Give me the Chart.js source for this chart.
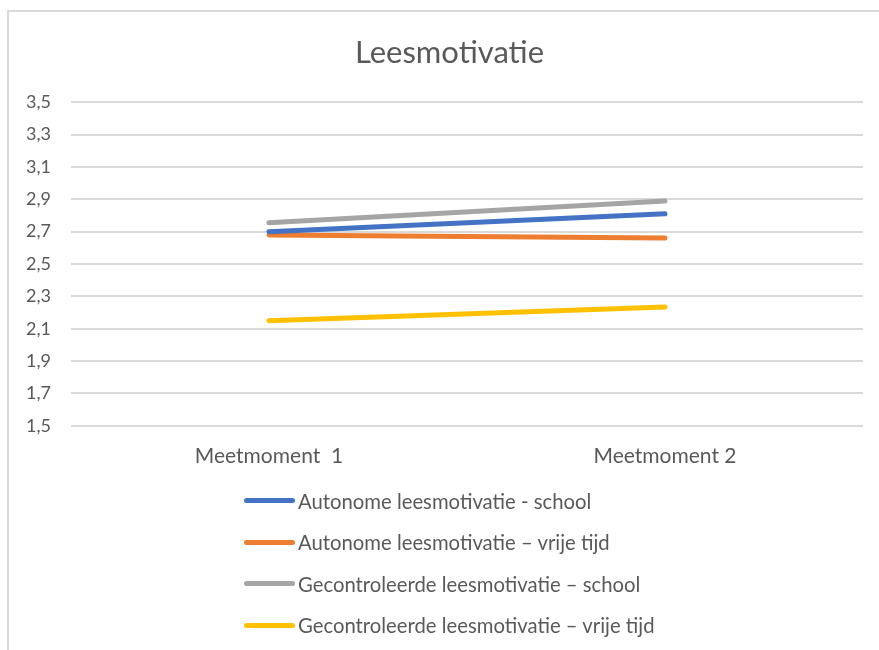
<!DOCTYPE html>
<html>
<head>
<meta charset="utf-8">
<script src="https://cdn.jsdelivr.net/npm/chart.js@4.4.1/dist/chart.umd.min.js"></script>
<style>
  html, body { margin: 0; padding: 0; background: #fff; }
  body { width: 879px; height: 650px; position: relative; overflow: hidden; font-family: Lato, "Open Sans", sans-serif; }
  .frame {
    position: absolute; left: 7px; top: 10px; width: 900px; height: 700px;
    border-left: 2px solid #d9d9d9; border-top: 2px solid #d9d9d9;
  }
  #chart { position: absolute; left: 0; top: 0; }
  .legend { position: absolute; left: 244px; top: 480px; }
  .legend-item { height: 41.5px; display: flex; align-items: center; color: #595959; font-size: 20.3px; }
  .legend-line { width: 51px; height: 5px; border-radius: 3px; margin-right: 3px; }
</style>
</head>
<body>
<div class="frame"></div>
<canvas id="chart" width="879" height="650"></canvas>
<div class="legend" id="legend"></div>
<script>
const categories = ["Meetmoment  1", "Meetmoment 2"];
const seriesNames = [
  "Autonome leesmotivatie - school",
  "Autonome leesmotivatie \u2013 vrije tijd",
  "Gecontroleerde leesmotivatie \u2013 school",
  "Gecontroleerde leesmotivatie \u2013 vrije tijd"
];
const autonoomSchool = [2.70, 2.81];
const autonoomVrijeTijd = [2.68, 2.66];
const gecontroleerdSchool = [2.755, 2.89];
const gecontroleerdVrijeTijd = [2.15, 2.235];
const colors = ["#4472C4", "#ED7D31", "#A5A5A5", "#FFC000"];
const yTicks = [1.5, 1.7, 1.9, 2.1, 2.3, 2.5, 2.7, 2.9, 3.1, 3.3, 3.5];

const seriesValues = [autonoomSchool, autonoomVrijeTijd, gecontroleerdSchool, gecontroleerdVrijeTijd];
const textColor = "#595959";

// titel iets naar rechts, gecentreerd boven het kader
const titleShift = {
  id: "titleShift",
  afterLayout(chart) {
    if (chart.titleBlock) chart.titleBlock.left += 30;
  },
};

const chart = new Chart(document.getElementById("chart"), {
  type: "line",
  data: {
    labels: categories,
    datasets: seriesValues.map((vals, i) => ({
      label: seriesNames[i],
      data: vals,
      borderColor: colors[i],
      backgroundColor: colors[i],
      borderWidth: 5,
      borderCapStyle: "round",
      pointRadius: 0,
      tension: 0,
    })),
  },
  options: {
    responsive: false,
    animation: false,
    layout: { padding: { left: 6, right: 16, top: 28, bottom: 163 } },
    plugins: {
      legend: { display: false },
      tooltip: { enabled: false },
      title: {
        display: true,
        text: "Leesmotivatie",
        color: textColor,
        font: { family: "Lato", size: 31, weight: "normal" },
        padding: { top: 6, bottom: 31 },
      },
    },
    scales: {
      x: {
        offset: true,
        grid: { display: false, drawTicks: false },
        border: { display: false },
        ticks: { color: textColor, font: { family: "Lato", size: 21 }, padding: 18 },
      },
      y: {
        min: 1.5,
        max: 3.5,
        afterBuildTicks: (scale) => { scale.ticks = yTicks.map((v) => ({ value: v })); },
        grid: { color: "#d9d9d9", lineWidth: 2, drawTicks: false },
        border: { display: false },
        ticks: {
          color: textColor,
          font: { family: "Lato", size: 18 },
          padding: 20,
          callback: (v) => Number(v).toFixed(1).replace(".", ","),
        },
      },
    },
  },
  plugins: [titleShift],
});

// legend als lijst onder elkaar
const legendEl = document.getElementById("legend");
chart.data.datasets.forEach((ds) => {
  const row = document.createElement("div");
  row.className = "legend-item";
  const line = document.createElement("span");
  line.className = "legend-line";
  line.style.background = ds.borderColor;
  const txt = document.createElement("span");
  txt.textContent = ds.label;
  row.appendChild(line);
  row.appendChild(txt);
  legendEl.appendChild(row);
});
</script>
</body>
</html>
